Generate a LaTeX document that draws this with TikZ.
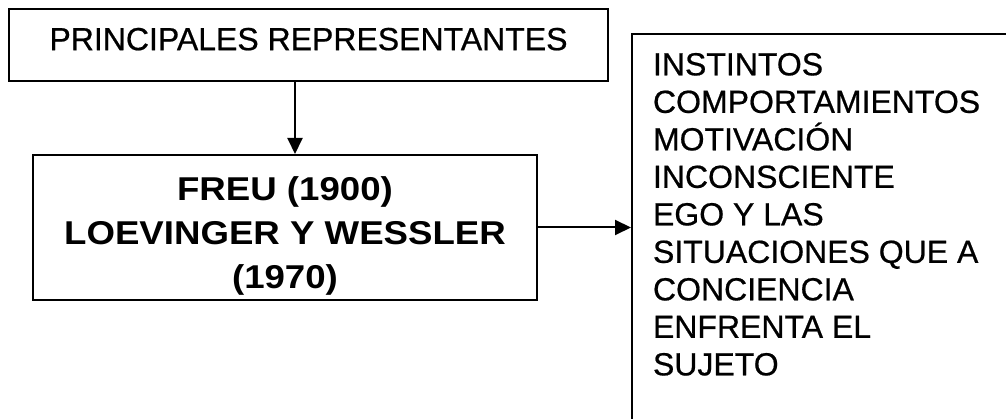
\documentclass[tikz,border=0pt]{standalone}
\usepackage{fontspec}
\setmainfont[FakeBold=0.6]{Liberation Sans}
\newfontfamily\widebold[FakeStretch=1.11]{Liberation Sans}
\usetikzlibrary{arrows.meta}

\begin{document}
\begin{tikzpicture}[x=1pt,y=-1pt,line width=2pt,
  caja/.style={draw,inner sep=0pt},
  flecha/.style={-{Triangle[length=16pt,width=15pt]}}]
\useasboundingbox (0,0) rectangle (1006,419);
\clip (0,0) rectangle (1006,419);
\node[caja,minimum width=599pt,minimum height=72pt,text depth=12pt,
  font=\fontsize{32}{37}\selectfont] (titulo) at (308.5,45) {PRINCIPALES REPRESENTANTES};
\node[caja,minimum width=504pt,minimum height=145pt] (autores) at (285,227.5) {};
\node[inner sep=0pt,align=center,anchor=north,
  font=\widebold\bfseries\fontsize{33}{44}\selectfont] (nombres) at (285,176)
  {FREU (1900)\\LOEVINGER Y WESSLER\\(1970)};
\node[caja,anchor=north west,minimum width=420pt,minimum height=420pt] (temas) at (631,33) {};
\node[anchor=north west,inner sep=0pt,align=left,
  font=\fontsize{32}{37.5}\selectfont] (lista) at (652,52)
  {INSTINTOS\\COMPORTAMIENTOS\\MOTIVACIÓN\\INCONSCIENTE\\EGO Y LAS\\SITUACIONES QUE A\\CONCIENCIA\\ENFRENTA EL\\SUJETO};
\coordinate (bajada) at (295,0);
\draw[flecha] (titulo.south -| bajada) -- (autores.north -| bajada);
\draw[flecha] (autores.east) -- (autores.east -| temas.west);
\end{tikzpicture}
\end{document}
